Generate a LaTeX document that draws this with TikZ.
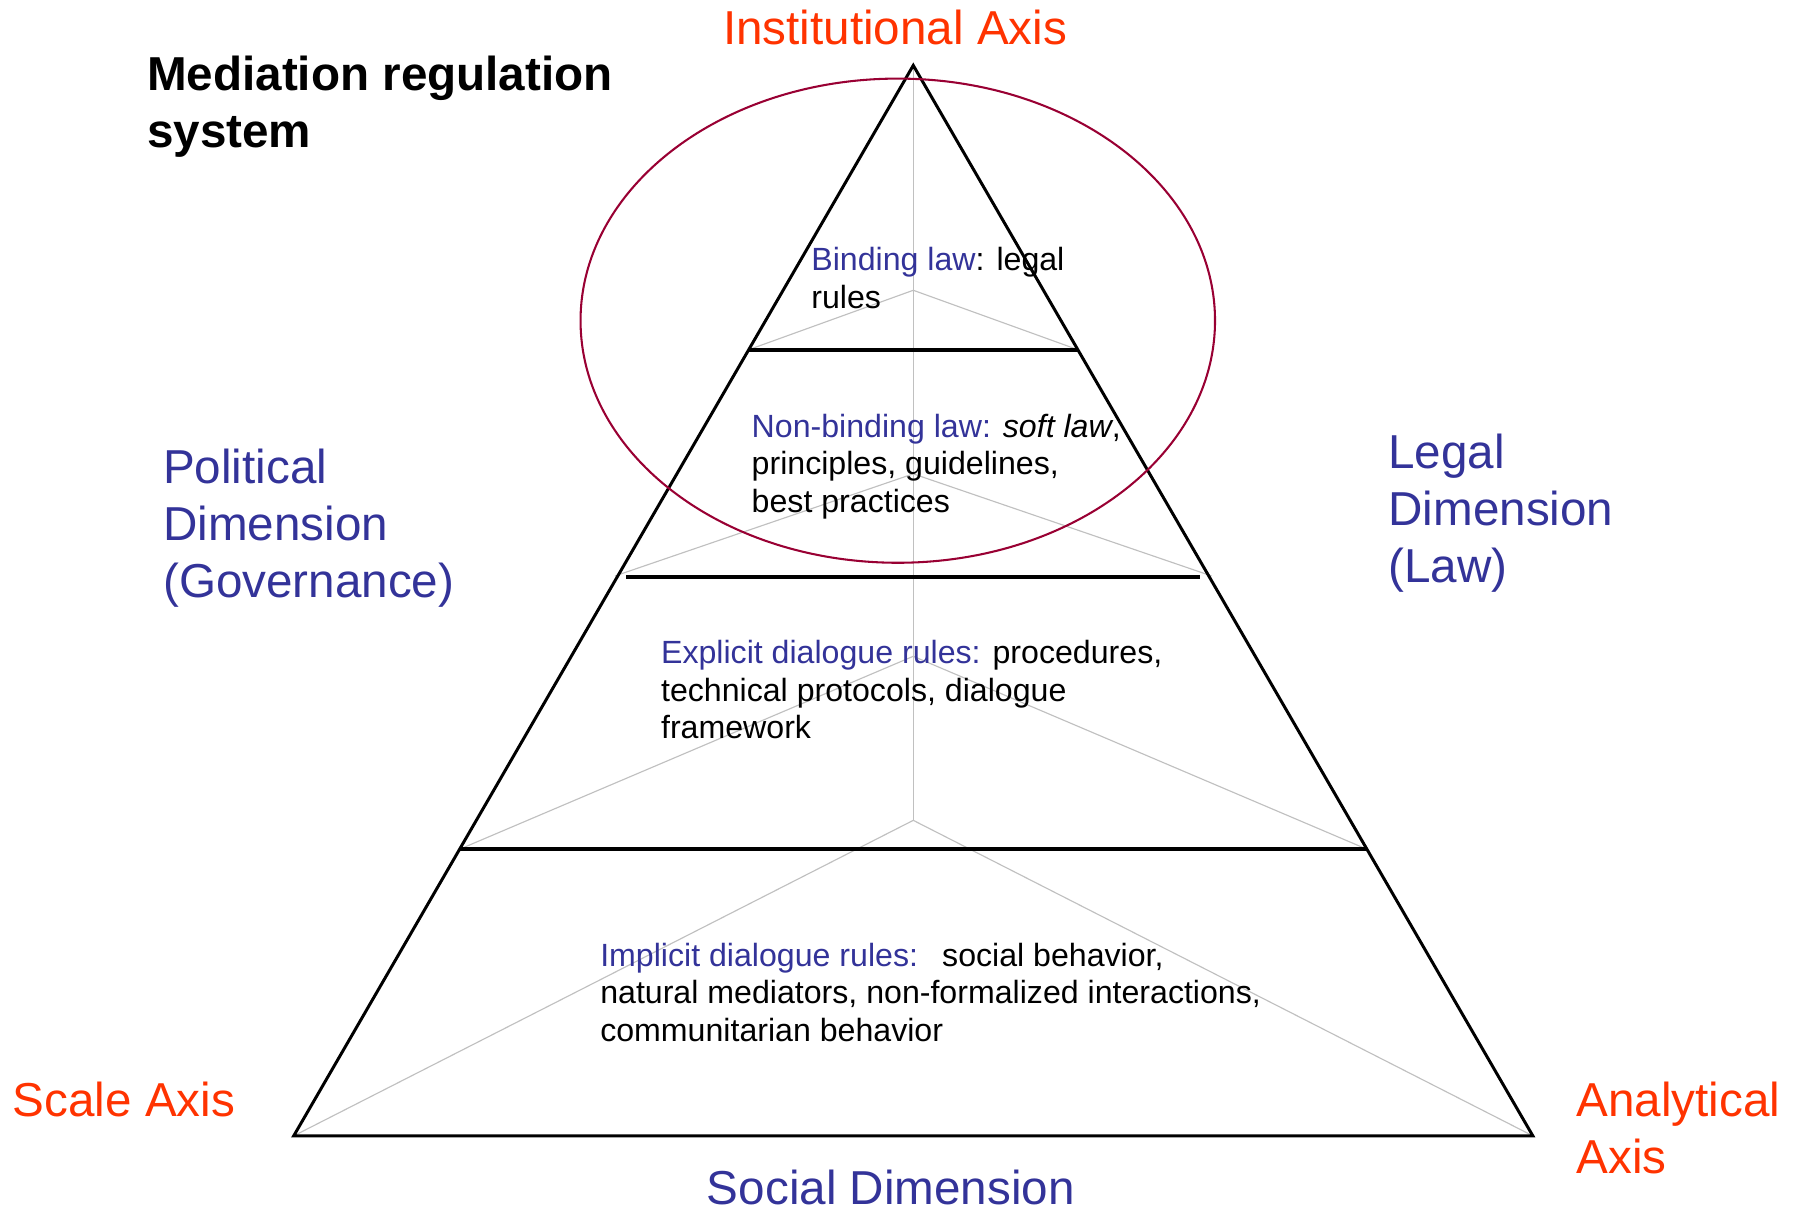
\documentclass[tikz,border=0pt]{standalone}
\usepackage{fontspec}
\setmainfont{Liberation Sans}
\definecolor{dimblue}{HTML}{333399}
\definecolor{axisred}{HTML}{FF3300}
\definecolor{ringred}{HTML}{990033}
\definecolor{backgray}{HTML}{C0C0C0}
\begin{document}
\begin{tikzpicture}[x=1pt,y=-1pt,
  bigtext/.style={anchor=base west, inner sep=0pt, align=left, font=\fontsize{41.5}{50}\selectfont},
  bodytext/.style={anchor=base west, inner sep=0pt, align=left, font=\fontsize{28}{33}\selectfont},
  axislabel/.style={bigtext, text=axisred},
  dimlabel/.style={bigtext, text=dimblue},
  edgeline/.style={line width=2.6pt, black},
  levelline/.style={line width=3pt, black},
  backline/.style={line width=1pt, backgray},
  ring/.style={line width=1.8pt, ringred}]
\useasboundingbox (0,0) rectangle (1568,1057);
% pyramid corners
\coordinate (apex) at (796,57);
\coordinate (bl) at (256,990);
\coordinate (br) at (1336,990);
\coordinate (b4) at (796,715);
% level 1
\coordinate (l1l) at (652,305);
\coordinate (l1r) at (940,305);
\coordinate (b1) at (796,253);
% level 2
\coordinate (l2l) at (536,502);
\coordinate (l2r) at (1056,502);
\coordinate (h2l) at (546,503);
\coordinate (h2r) at (1046,503);
\coordinate (b2) at (796,413);
% level 3
\coordinate (l3l) at (401,740);
\coordinate (l3r) at (1191,740);
\coordinate (b3) at (796,572);
% back (hidden) edges
\draw[backline] (apex) -- (b4);
\draw[backline] (l1l) -- (b1) -- (l1r);
\draw[backline] (l2l) -- (b2) -- (l2r);
\draw[backline] (l3l) -- (b3) -- (l3r);
\draw[backline] (bl) -- (b4) -- (br);
% pyramid outline
\draw[edgeline, line join=miter] (bl) -- (apex) -- (br) -- cycle;
\draw[levelline] (l1l) -- (l1r);
\draw[levelline] (h2l) -- (h2r);
\draw[levelline] (l3l) -- (l3r);
% ellipse
\coordinate (ringc) at (782.5,279.5);
\draw[ring] (ringc) ellipse [x radius=276.5pt, y radius=211pt];
% titles and axes (base anchor = baseline of the last line)
\node[bigtext, font=\fontsize{41.5}{50}\selectfont\bfseries] (title) at (128,128.5) {Mediation regulation\\system};
\node[axislabel] (inst) at (630,39) {Institutional Axis};
\node[axislabel] (scale) at (11,973) {Scale Axis};
\node[axislabel] (anal) at (1374,1023) {Analytical\\Axis};
\node[dimlabel] (pol) at (142,521) {Political\\Dimension\\(Governance)};
\node[dimlabel] (legal) at (1210,508) {Legal\\Dimension\\(Law)};
\node[dimlabel] (social) at (616,1050) {Social Dimension};
% level texts
\node[bodytext] (t1) at (707,269) {\textcolor{dimblue}{Binding law}: legal\\rules};
\node[bodytext] (t2) at (655,447) {\textcolor{dimblue}{Non-binding law:} \textit{soft law},\\principles, guidelines,\\best practices};
\node[bodytext] (t3) at (576,644) {\textcolor{dimblue}{Explicit dialogue rules:} procedures,\\technical protocols, dialogue\\framework};
\node[bodytext] (t4) at (523,908) {\textcolor{dimblue}{Implicit dialogue rules:}\hspace{21pt}social behavior,\\natural mediators, non-formalized interactions,\\communitarian behavior};
\end{tikzpicture}
\end{document}
